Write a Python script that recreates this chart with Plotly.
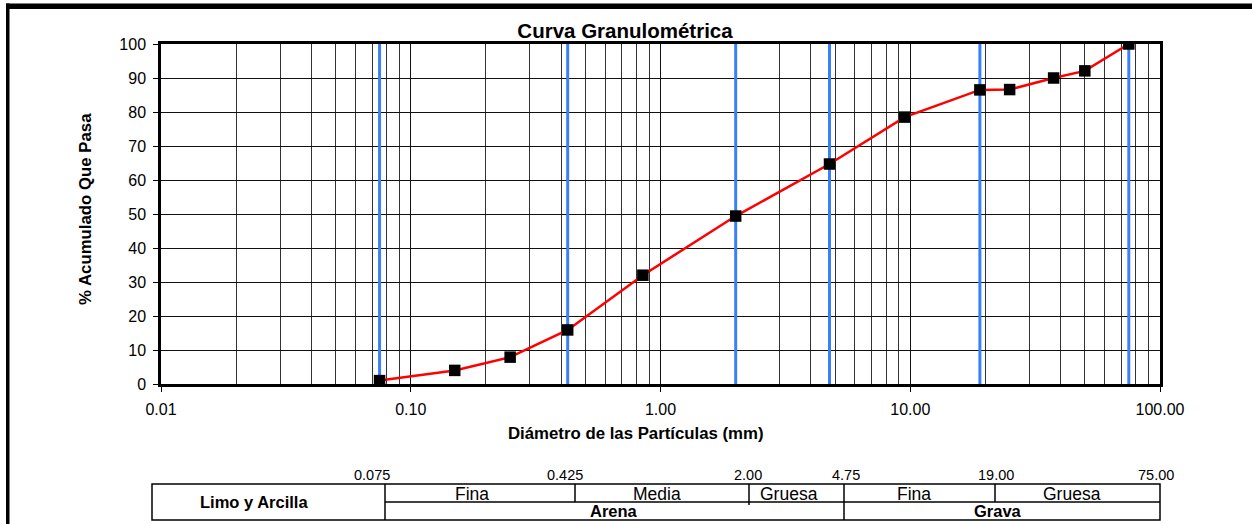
import plotly.graph_objects as go

# ---- data ----
diametro_mm = [75.0, 50.0, 37.5, 25.0, 19.0, 9.5, 4.75, 2.0, 0.85, 0.425, 0.25, 0.15, 0.075]
pct_pasa = [100.0, 92.1, 90.0, 86.6, 86.5, 78.5, 64.7, 49.4, 32.0, 15.9, 7.9, 4.0, 1.0]
limites_mm = [0.075, 0.425, 2.0, 4.75, 19.0, 75.0]
limites_txt = ["0.075", "0.425", "2.00", "4.75", "19.00", "75.00"]
x_tickvals = [0.01, 0.1, 1, 10, 100]
x_ticktext = ["0.01", "0.10", "1.00", "10.00", "100.00"]
subclases = ["Fina", "Media", "Gruesa", "Fina", "Gruesa"]
clases = ["Arena", "Grava"]

W, H = 1252, 524
L, R, T, B = 161, 1160, 44, 384  # plot area in pixels
FONT = "Liberation Sans, Arial, sans-serif"


def px(x):
    return (x - L) / (R - L)


def py(y):
    return (B - y) / (B - T)


fig = go.Figure()

# blue boundary lines
for v in limites_mm:
    fig.add_trace(go.Scatter(x=[v, v], y=[0, 100], mode="lines",
                             line=dict(color="#3a80f8", width=3),
                             hoverinfo="skip", showlegend=False))

# grading curve
fig.add_trace(go.Scatter(x=diametro_mm, y=pct_pasa, mode="lines+markers",
                         line=dict(color="#ff0000", width=2.5),
                         marker=dict(symbol="square", size=11.5, color="#000000"),
                         showlegend=False))

minor_vals = [m * 10 ** e for e in range(-2, 2) for m in range(2, 10)]

fig.update_xaxes(type="log", range=[-2, 2], tickvals=x_tickvals, ticktext=x_ticktext,
                 showgrid=True, gridcolor="#111111", gridwidth=1,
                 minor=dict(tickvals=minor_vals, showgrid=True, gridcolor="#333333",
                            gridwidth=1, ticks=""),
                 showline=True, linecolor="black", linewidth=2.5, mirror=True,
                 ticks="outside", ticklen=5, tickcolor="black", tickwidth=1,
                 ticklabelstandoff=4,
                 tickfont=dict(family=FONT, size=16, color="black"), zeroline=False)
fig.update_yaxes(range=[0, 100], dtick=10, showgrid=True, gridcolor="#111111", gridwidth=1,
                 showline=True, linecolor="black", linewidth=2.5, mirror=True,
                 ticks="outside", ticklen=5, tickcolor="black", tickwidth=1,
                 ticklabelstandoff=4,
                 tickfont=dict(family=FONT, size=16, color="black"), zeroline=False)

shapes = []
# outer frame (top and left)
shapes.append(dict(type="rect", xref="paper", yref="paper", x0=px(6), x1=px(1260),
                   y0=py(9), y1=py(3.5), fillcolor="black", line=dict(width=0), layer="above"))
shapes.append(dict(type="rect", xref="paper", yref="paper", x0=px(6), x1=px(9.5),
                   y0=py(530), y1=py(3.5), fillcolor="black", line=dict(width=0), layer="above"))

# classification table
tl, tr, tt, tm, tb = 152, 1160, 484, 502, 520
div_full = [385, 844]
div_top = [575, 749, 995]
lw = dict(color="black", width=1.5)
shapes.append(dict(type="rect", xref="paper", yref="paper", x0=px(tl), x1=px(tr),
                   y0=py(tb), y1=py(tt), line=lw))
shapes.append(dict(type="line", xref="paper", yref="paper", x0=px(385), x1=px(tr),
                   y0=py(tm), y1=py(tm), line=lw))
for d in div_full:
    shapes.append(dict(type="line", xref="paper", yref="paper", x0=px(d), x1=px(d),
                       y0=py(tb), y1=py(tt), line=lw))
for d in div_top:
    shapes.append(dict(type="line", xref="paper", yref="paper", x0=px(d), x1=px(d),
                       y0=py(tm + (3 if d == 749 else 0)), y1=py(tt), line=lw))

annotations = []
# axis titles
annotations.append(dict(text="<b>Diámetro de las Partículas (mm)</b>", xref="paper", yref="paper",
                        x=px(636), y=py(433), showarrow=False, xanchor="center", yanchor="middle",
                        font=dict(family=FONT, size=16.8, color="black")))
annotations.append(dict(text="<b>% Acumulado Que Pasa</b>", xref="paper", yref="paper",
                        x=px(85), y=py(209), showarrow=False, xanchor="center", yanchor="middle",
                        textangle=-90, font=dict(family=FONT, size=16.8, color="black")))

# boundary numbers above table
num_x = [372, 565, 748, 846, 996, 1156]
for t, xx in zip(limites_txt, num_x):
    annotations.append(dict(text=t, xref="paper", yref="paper", x=px(xx), y=py(475),
                            showarrow=False, xanchor="center", yanchor="middle",
                            font=dict(family=FONT, size=14.5, color="black")))

# table texts
annotations.append(dict(text="<b>Limo y Arcilla</b>", xref="paper", yref="paper",
                        x=px(254), y=py(502), showarrow=False, xanchor="center", yanchor="middle",
                        font=dict(family=FONT, size=16.5, color="black")))
sub_x = [472, 657, 789, 914, 1072]
for t, xx in zip(subclases, sub_x):
    annotations.append(dict(text=t, xref="paper", yref="paper", x=px(xx), y=py(494),
                            showarrow=False, xanchor="center", yanchor="middle",
                            font=dict(family=FONT, size=17.5, color="black")))
cls_x = [614, 998]
for t, xx in zip(clases, cls_x):
    annotations.append(dict(text="<b>" + t + "</b>", xref="paper", yref="paper", x=px(xx), y=py(510.5),
                            showarrow=False, xanchor="center", yanchor="middle",
                            font=dict(family=FONT, size=16.5, color="black")))

fig.update_layout(
    width=W, height=H,
    margin=dict(l=L, r=W - R, t=T, b=H - B),
    paper_bgcolor="white", plot_bgcolor="white",
    title=dict(text="<b>Curva Granulométrica</b>", x=625 / W, xref="container", xanchor="center",
               y=1 - 31 / H, yref="container", yanchor="middle",
               font=dict(family=FONT, size=20.5, color="black")),
    shapes=shapes, annotations=annotations, showlegend=False,
)

fig.write_html("out.html", config={"displayModeBar": False},
               post_script="document.body.style.margin='0';document.body.style.overflow='hidden';")
